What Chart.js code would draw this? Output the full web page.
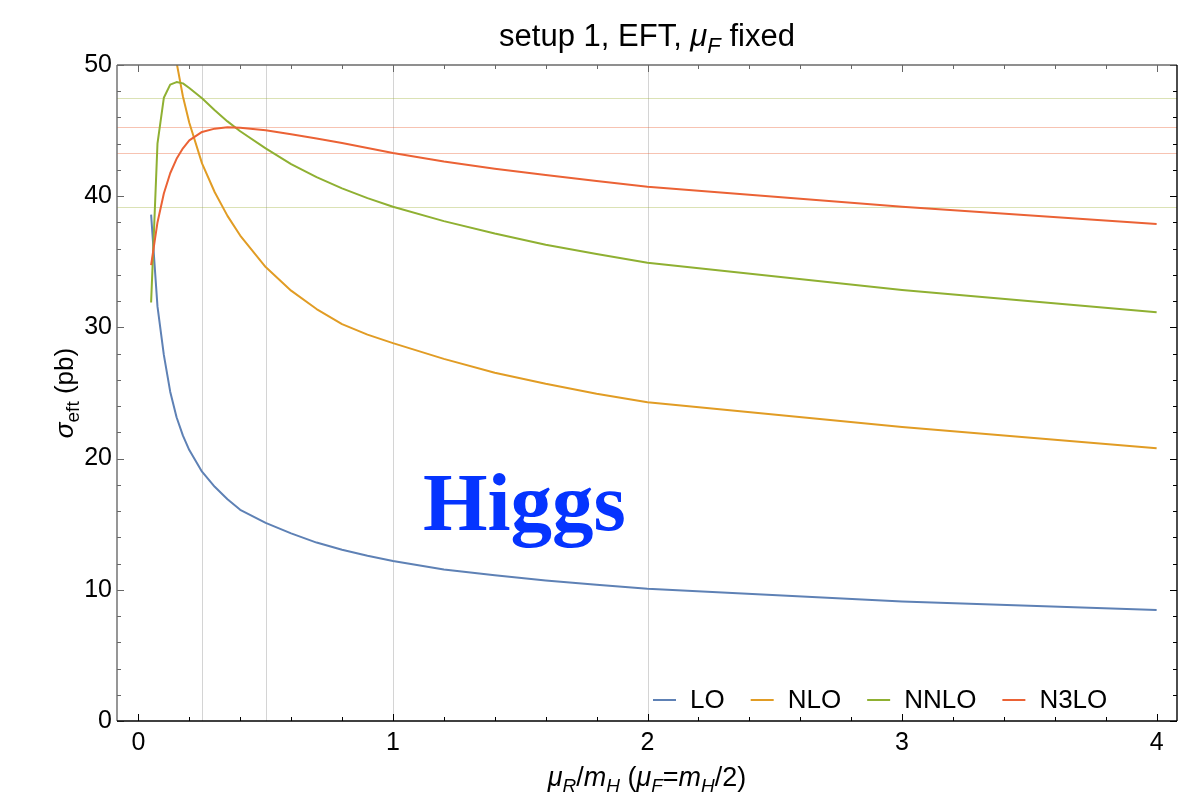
<!DOCTYPE html>
<html>
<head>
<meta charset="utf-8">
<script src="https://cdn.jsdelivr.net/npm/chart.js@4.4.1/dist/chart.umd.min.js"></script>
<style>
  html, body { margin: 0; padding: 0; background: #fff; }
  #wrap { width: 1200px; height: 792px; }
</style>
</head>
<body>
<div id="wrap"><canvas id="scaleChart" width="1200" height="792"></canvas></div>
<script>
// mu_R / m_H sample points (mu_F = m_H/2 fixed)
const muR = [0.05, 0.075, 0.1, 0.125, 0.15, 0.175, 0.2, 0.25, 0.3, 0.35, 0.4, 0.5, 0.6, 0.7, 0.8, 0.9, 1.0, 1.2, 1.4, 1.6, 1.8, 2.0, 3.0, 4.0];

// sigma_eft in pb
const sigmaLO   = [38.6, 31.6, 27.9, 25.1, 23.15, 21.75, 20.65, 19.0, 17.85, 16.9, 16.1, 15.1, 14.3, 13.6, 13.05, 12.6, 12.2, 11.55, 11.1, 10.7, 10.38, 10.08, 9.1, 8.46];
const sigmaNLO  = [80, 66, 59, 54, 50.2, 47.6, 45.6, 42.5, 40.3, 38.5, 37.0, 34.6, 32.8, 31.4, 30.25, 29.45, 28.8, 27.6, 26.55, 25.7, 24.95, 24.29, 22.4, 20.78];
const sigmaNNLO = [31.9, 44.0, 47.5, 48.5, 48.7, 48.6, 48.25, 47.46, 46.55, 45.7, 44.95, 43.65, 42.45, 41.45, 40.6, 39.85, 39.2, 38.1, 37.15, 36.3, 35.6, 34.93, 32.85, 31.15];
const sigmaN3LO = [34.75, 38.0, 40.2, 41.75, 42.85, 43.65, 44.25, 44.9, 45.15, 45.25, 45.22, 45.02, 44.72, 44.4, 44.05, 43.68, 43.3, 42.65, 42.1, 41.62, 41.15, 40.72, 39.2, 37.88];

const orderLabels = ['LO', 'NLO', 'NNLO', 'N3LO'];

// reference lines
const vGrid = [0.25, 0.5, 1, 2];
const hLinesNNLO = [47.46, 39.2];
const hLinesN3LO = [45.25, 43.3];

// tick labels
const xTicks = [0, 1, 2, 3, 4];
const yTicks = [0, 10, 20, 30, 40, 50];

const FAM = '"Liberation Sans", Arial, sans-serif';
const colors = ['#5e81b5', '#e19c24', '#8fb032', '#eb6235'];

function seg(ctx, x1, y1, x2, y2) {
  ctx.beginPath(); ctx.moveTo(x1, y1); ctx.lineTo(x2, y2); ctx.stroke();
}

// text with italic / subscript pieces
function drawRich(ctx, parts, x, y, size) {
  const fontOf = p => (p.it ? 'italic ' : '') + (p.sub ? Math.round(size * 0.72) : size) + 'px ' + FAM;
  let w = 0;
  parts.forEach(p => { ctx.font = fontOf(p); p.w = ctx.measureText(p.t).width; w += p.w; });
  let cx = x - w / 2;
  ctx.textAlign = 'left';
  ctx.textBaseline = 'alphabetic';
  parts.forEach(p => {
    ctx.font = fontOf(p);
    ctx.fillText(p.t, cx, y + (p.sub ? size * 0.24 : 0));
    cx += p.w;
  });
}

const ink = {
  id: 'ink',
  beforeDatasetsDraw(chart) {
    const { ctx, chartArea: a, scales: { x, y } } = chart;
    ctx.save();
    ctx.beginPath(); ctx.rect(a.left, a.top, a.width, a.height); ctx.clip();
    ctx.lineWidth = 1;
    ctx.strokeStyle = '#d4d4d4';
    vGrid.forEach(v => {
      const px = Math.round(x.getPixelForValue(v)) + 0.5;
      seg(ctx, px, a.top, px, a.bottom);
    });
    ctx.strokeStyle = 'rgba(160,180,60,0.38)';
    hLinesNNLO.forEach(v => {
      const py = Math.round(y.getPixelForValue(v)) + 0.5;
      seg(ctx, a.left, py, a.right, py);
    });
    ctx.strokeStyle = 'rgba(235,98,53,0.38)';
    hLinesN3LO.forEach(v => {
      const py = Math.round(y.getPixelForValue(v)) + 0.5;
      seg(ctx, a.left, py, a.right, py);
    });
    ctx.restore();
  },
  afterDraw(chart) {
    const { ctx, chartArea: a, scales: { x, y } } = chart;
    ctx.save();
    // ticks, pointing inwards on all four sides
    ctx.lineWidth = 1;
    for (let i = 0; i <= 20; i++) {
      const v = i / 5;
      const px = Math.round(x.getPixelForValue(v)) + 0.5;
      const len = i % 5 === 0 ? 7 : 4;
      ctx.strokeStyle = '#000';
      seg(ctx, px, a.bottom, px, a.bottom - len);
      ctx.strokeStyle = '#666';
      seg(ctx, px, a.top, px, a.top + len);
    }
    for (let v = 0; v <= 50; v += 2) {
      const py = Math.round(y.getPixelForValue(v)) + 0.5;
      const len = v % 10 === 0 ? 7 : 4;
      ctx.strokeStyle = '#666';
      seg(ctx, a.left, py, a.left + len, py);
      ctx.strokeStyle = '#000';
      seg(ctx, a.right, py, a.right - len, py);
    }
    // frame
    ctx.lineWidth = 1.4;
    ctx.strokeStyle = '#6a6a6a';
    seg(ctx, a.left, a.top, a.right, a.top);
    seg(ctx, a.left, a.top, a.left, a.bottom);
    ctx.strokeStyle = '#000';
    seg(ctx, a.left, a.bottom, a.right, a.bottom);
    seg(ctx, a.right, a.top, a.right, a.bottom);

    // legend inside the frame, bottom right
    ctx.font = '26px ' + FAM;
    ctx.textBaseline = 'middle';
    ctx.textAlign = 'left';
    let lx = 653;
    const ly = 700;
    chart.data.datasets.forEach(ds => {
      ctx.strokeStyle = ds.borderColor;
      ctx.lineWidth = 2;
      seg(ctx, lx, ly, lx + 23, ly);
      ctx.fillStyle = '#000';
      ctx.fillText(ds.label, lx + 37, ly + 1);
      lx += 37 + ctx.measureText(ds.label).width + 26;
    });

    // big label
    ctx.fillStyle = '#0534ff';
    ctx.font = 'bold 83px "Liberation Serif", "Times New Roman", serif';
    ctx.textBaseline = 'alphabetic';
    ctx.fillText('Higgs', 423, 530);

    // title and axis titles
    ctx.fillStyle = '#000';
    drawRich(ctx, [{ t: 'setup 1, EFT, ' }, { t: 'μ', it: 1 }, { t: 'F', it: 1, sub: 1 }, { t: ' fixed' }],
      (a.left + a.right) / 2, 46, 31);
    drawRich(ctx, [{ t: 'μ', it: 1 }, { t: 'R', it: 1, sub: 1 }, { t: '/' }, { t: 'm', it: 1 }, { t: 'H', it: 1, sub: 1 },
      { t: ' (' }, { t: 'μ', it: 1 }, { t: 'F', it: 1, sub: 1 }, { t: '=' }, { t: 'm', it: 1 }, { t: 'H', it: 1, sub: 1 }, { t: '/2)' }],
      (a.left + a.right) / 2, 786, 27);
    ctx.translate(73, (a.top + a.bottom) / 2);
    ctx.rotate(-Math.PI / 2);
    drawRich(ctx, [{ t: 'σ', it: 1 }, { t: 'eft', sub: 1 }, { t: ' (pb)' }], 0, 0, 26);
    ctx.restore();
  }
};

const series = [sigmaLO, sigmaNLO, sigmaNNLO, sigmaN3LO];

new Chart(document.getElementById('scaleChart'), {
  type: 'line',
  data: {
    datasets: series.map((vals, i) => ({
      label: orderLabels[i],
      data: muR.map((m, k) => ({ x: m, y: vals[k] })),
      borderColor: colors[i],
      borderWidth: 2,
      pointRadius: 0,
      tension: 0,
      borderJoinStyle: 'round',
      fill: false,
      clip: 0,
      order: 4 - i
    }))
  },
  options: {
    responsive: false,
    animation: false,
    devicePixelRatio: 1,
    layout: { padding: { top: 65, right: 23, bottom: 0, left: 0 } },
    plugins: { legend: { display: false }, tooltip: { enabled: false }, title: { display: false } },
    scales: {
      x: {
        type: 'linear', min: -0.084, max: 4.08,
        grid: { display: false, drawTicks: false },
        border: { display: false },
        ticks: { font: { size: 25, family: FAM }, color: '#000', padding: 7, maxRotation: 0, autoSkip: false,
                 callback: v => String(v) },
        afterBuildTicks: s => { s.ticks = xTicks.map(v => ({ value: v })); },
        afterFit: s => { s.height = 71; }
      },
      y: {
        type: 'linear', min: 0, max: 50,
        grid: { display: false, drawTicks: false },
        border: { display: false },
        ticks: { font: { size: 25, family: FAM }, color: '#000', padding: 5, callback: v => String(v) },
        afterBuildTicks: s => { s.ticks = yTicks.map(v => ({ value: v })); },
        afterFit: s => { s.width = 117; }
      }
    }
  },
  plugins: [ink]
});
</script>
</body>
</html>
